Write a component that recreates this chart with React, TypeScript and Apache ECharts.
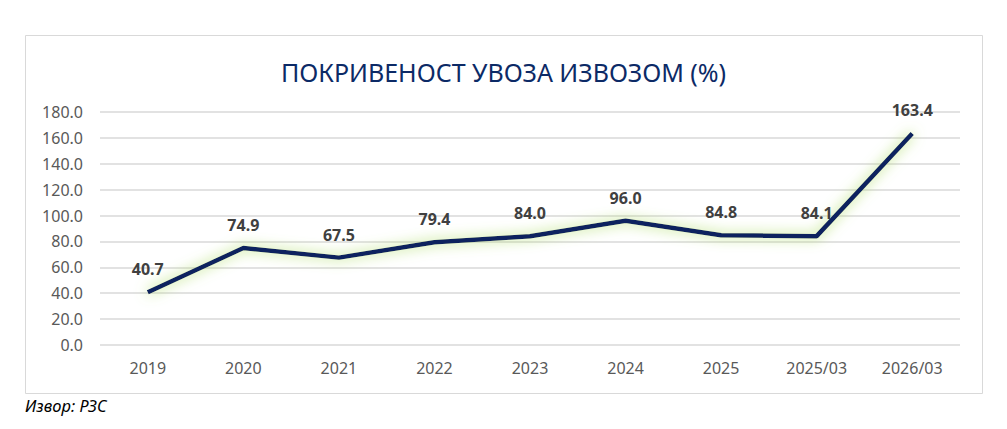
import React, { useEffect, useRef } from "react";
import * as echarts from "echarts";

const categories = ["2019", "2020", "2021", "2022", "2023", "2024", "2025", "2025/03", "2026/03"];
const values = [40.7, 74.9, 67.5, 79.4, 84.0, 96.0, 84.8, 84.1, 163.4];
const titleText = "ПОКРИВЕНОСТ УВОЗА ИЗВОЗОМ (%)";
const sourceText = "Извор: РЗС";

const FONT = "'Noto Sans', 'Open Sans', sans-serif";

export default function App() {
  const ref = useRef<HTMLDivElement>(null);
  useEffect(() => {
    if (!ref.current) return;
    const chart = echarts.init(ref.current, null, { renderer: "svg" });
    chart.setOption({
      animation: false,
      backgroundColor: "#ffffff",
      title: {
        text: titleText,
        left: "center",
        top: 54,
        textStyle: { fontFamily: FONT, fontSize: 25, fontWeight: "normal", color: "#0c2a66" },
      },
      graphic: [
        {
          type: "rect",
          shape: { x: 25.5, y: 35.5, width: 957, height: 358 },
          style: { fill: "none", stroke: "#d9d9d9", lineWidth: 1 },
          z: -1,
        },
        {
          type: "text",
          left: 25,
          top: 397,
          style: { text: sourceText, font: `italic 16.5px ${FONT}`, fill: "#000000" },
        },
      ],
      grid: { left: 100, right: 47, top: 112, bottom: 84 },
      xAxis: {
        type: "category",
        data: categories,
        boundaryGap: true,
        axisLine: { show: false },
        axisTick: { show: false },
        axisLabel: { color: "#595959", fontSize: 16, fontFamily: FONT, margin: 15 },
      },
      yAxis: {
        type: "value",
        min: 0,
        max: 180,
        interval: 20,
        axisLine: { show: false },
        axisTick: { show: false },
        splitLine: { lineStyle: { color: "#d9d9d9", width: 1.5 } },
        axisLabel: {
          color: "#595959",
          fontSize: 16,
          fontFamily: FONT,
          margin: 17,
          formatter: (v: number) => v.toFixed(1),
        },
      },
      series: [
        {
          type: "line",
          data: values,
          symbol: "circle",
          symbolSize: 2,
          showSymbol: true,
          showAllSymbol: true,
          itemStyle: { color: "rgba(0,0,0,0)", borderWidth: 0 },
          lineStyle: {
            color: "#0a215e",
            width: 4.5,
            shadowBlur: 13,
            shadowColor: "rgba(175,222,105,1)",
          },
          label: {
            show: true,
            position: "top",
            distance: 14,
            formatter: (p: any) => Number(p.value).toFixed(1),
            color: "#404040",
            fontSize: 16,
            fontWeight: "bold",
            fontFamily: FONT,
          },
          z: 3,
        },
      ],
    });
    return () => chart.dispose();
  }, []);
  return (
    <div
      ref={ref}
      style={{ position: "fixed", left: 0, top: 0, width: 1007, height: 429 }}
    />
  );
}
